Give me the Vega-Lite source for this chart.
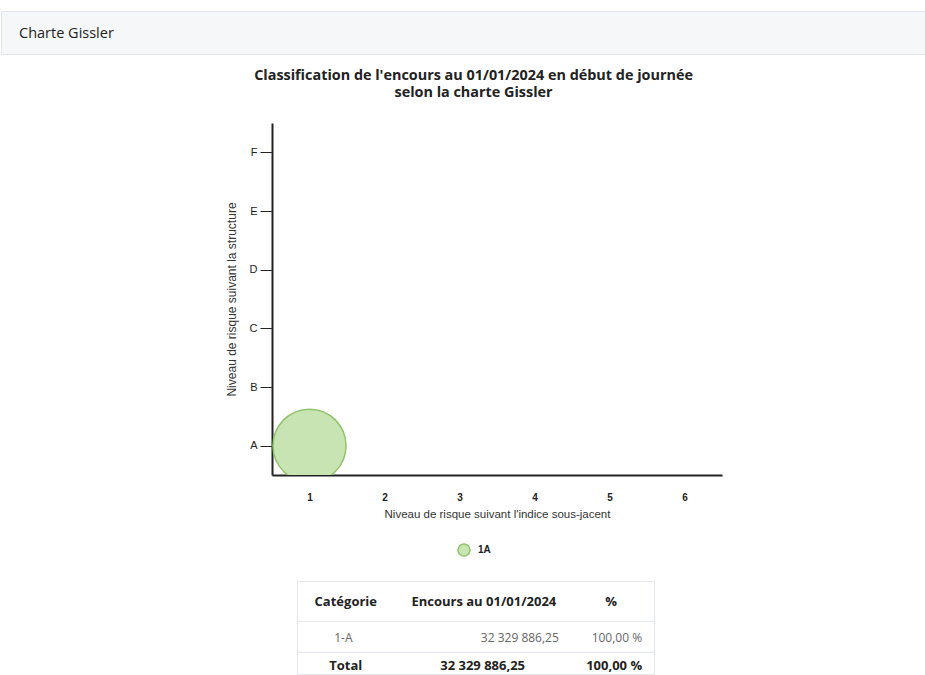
{
  "$schema": "https://vega.github.io/schema/vega-lite/v6.json",
  "padding": {"left": 0, "right": 0, "top": 10, "bottom": 0},
  "background": "white",
  "config": {"view": {"stroke": null}},
  "datasets": {
    "bulles": [
      {"indice": "1", "structure": "A", "categorie": "1A", "encours": 32329886.25}
    ],
    "tableau": [
      {"ligne": "En-tête", "colonne": "Catégorie", "texte": "Catégorie"},
      {"ligne": "En-tête", "colonne": "Encours au 01/01/2024", "texte": "Encours au 01/01/2024"},
      {"ligne": "En-tête", "colonne": "%", "texte": "%"},
      {"ligne": "1-A", "colonne": "Catégorie", "texte": "1-A"},
      {"ligne": "1-A", "colonne": "Encours au 01/01/2024", "texte": "32 329 886,25"},
      {"ligne": "1-A", "colonne": "%", "texte": "100,00 %"},
      {"ligne": "Total", "colonne": "Catégorie", "texte": "Total"},
      {"ligne": "Total", "colonne": "Encours au 01/01/2024", "texte": "32 329 886,25"},
      {"ligne": "Total", "colonne": "%", "texte": "100,00 %"}
    ]
  },
  "spacing": 12,
  "vconcat": [
    {
      "width": 924,
      "height": 43,
      "view": {"fill": "#f5f7f9", "stroke": "#e2e6ea"},
      "title": {"text": "Charte Gissler", "anchor": "start", "frame": "group", "offset": -30, "dx": 18, "font": "Open Sans", "fontSize": 14.5, "fontWeight": "normal", "color": "#222222"},
      "data": {"values": []},
      "mark": "point",
      "encoding": {}
    },
    {
      "spacing": 60,
      "vconcat": [
        {
          "spacing": 0,
          "hconcat": [
            {
              "width": 224,
              "height": 10,
              "data": {"values": []},
              "mark": "point",
              "encoding": {}
            },
            {
              "width": 450,
              "height": 352,
              "title": {
                "text": ["Classification de l'encours au 01/01/2024 en début de journée", "selon la charte Gissler"],
                "anchor": "middle",
                "frame": "bounds",
                "font": "Open Sans",
                "fontSize": 14.4,
                "fontWeight": "bold",
                "color": "#222222",
                "lineHeight": 17,
                "offset": 23
              },
              "data": {"name": "bulles"},
              "mark": {"type": "circle", "size": 5329, "opacity": 1, "strokeWidth": 1.5, "clip": true},
              "encoding": {
                "x": {
                  "field": "indice",
                  "type": "ordinal",
                  "scale": {"type": "point", "domain": ["1", "2", "3", "4", "5", "6"], "padding": 0.5},
                  "axis": {
                    "title": "Niveau de risque suivant l'indice sous-jacent",
                    "labelAngle": 0,
                    "ticks": false,
                    "tickSize": 0,
                    "grid": false,
                    "domainColor": "#222222",
                    "domainWidth": 2,
                    "labelFont": "Liberation Sans",
                    "labelFontSize": 10,
                    "labelFontWeight": "bold",
                    "labelColor": "#222222",
                    "labelPadding": 17,
                    "titleFont": "Liberation Sans",
                    "titleFontSize": 11.5,
                    "titleFontWeight": "normal",
                    "titleColor": "#333333",
                    "titlePadding": 6
                  }
                },
                "y": {
                  "field": "structure",
                  "type": "ordinal",
                  "scale": {"type": "point", "domain": ["F", "E", "D", "C", "B", "A"], "padding": 0.5},
                  "axis": {
                    "title": "Niveau de risque suivant la structure",
                    "ticks": true,
                    "tickSize": 12,
                    "tickColor": "#222222",
                    "tickWidth": 1,
                    "grid": false,
                    "domainColor": "#222222",
                    "domainWidth": 2,
                    "labelFont": "Liberation Sans",
                    "labelFontSize": 11,
                    "labelFontWeight": "normal",
                    "labelColor": "#222222",
                    "labelPadding": 3,
                    "titleFont": "Liberation Sans",
                    "titleFontSize": 12,
                    "titleFontWeight": "normal",
                    "titleColor": "#333333",
                    "titlePadding": 11
                  }
                },
                "fill": {
                  "field": "categorie",
                  "type": "nominal",
                  "scale": {"range": ["#c9e4b3"]},
                  "legend": {"title": null, "orient": "none", "legendX": 456, "legendY": 532, "direction": "horizontal", "symbolSize": 144, "symbolStrokeWidth": 1.5, "symbolOpacity": 1, "labelFont": "Liberation Sans", "labelFontSize": 10, "labelFontWeight": "bold", "labelColor": "#222222", "labelOffset": 7}
                },
                "stroke": {
                  "field": "categorie",
                  "type": "nominal",
                  "scale": {"range": ["#8fc46a"]},
                  "legend": {"title": null, "orient": "none", "legendX": 456, "legendY": 532, "direction": "horizontal", "symbolSize": 144, "symbolStrokeWidth": 1.5, "symbolOpacity": 1, "labelFont": "Liberation Sans", "labelFontSize": 10, "labelFontWeight": "bold", "labelColor": "#222222", "labelOffset": 7}
                }
              }
            }
          ]
        },
        {
          "spacing": 0,
          "hconcat": [
            {
              "width": 295,
              "height": 10,
              "data": {"values": []},
              "mark": "point",
              "encoding": {}
            },
            {
              "width": 357,
              "height": 93,
              "view": {"stroke": "#e3e7eb", "strokeWidth": 1},
              "data": {"name": "tableau"},
              "encoding": {
                "x": {"field": "colonne", "type": "nominal", "scale": {"type": "band", "domain": ["Catégorie", "Encours au 01/01/2024", "%"], "paddingInner": 0, "paddingOuter": 0}, "axis": null},
                "y": {"field": "ligne", "type": "nominal", "scale": {"type": "band", "domain": ["En-tête", "1-A", "Total"], "paddingInner": 0, "paddingOuter": 0}, "axis": null}
              },
              "layer": [
                {
                  "transform": [{"filter": "datum.ligne != 'En-tête' && datum.colonne == 'Catégorie'"}],
                  "mark": {"type": "rule", "color": "#e3e7eb", "strokeWidth": 1},
                  "encoding": {
                    "x": null,
                    "y": {"field": "ligne", "type": "nominal", "bandPosition": 0.3}
                  }
                },
                {
                  "transform": [{"filter": "datum.ligne == 'En-tête' && datum.colonne == 'Catégorie'"}],
                  "mark": {"type": "text", "font": "Open Sans", "fontSize": 13, "fontWeight": "bold", "color": "#222222", "align": "center", "baseline": "middle"},
                  "encoding": {
                    "x": {"field": "colonne", "type": "nominal", "bandPosition": 0.41},
                    "y": {"field": "ligne", "type": "nominal", "bandPosition": 0.68},
                    "text": {"field": "texte"}
                  }
                },
                {
                  "transform": [{"filter": "datum.ligne == 'En-tête' && datum.colonne == 'Encours au 01/01/2024'"}],
                  "mark": {"type": "text", "font": "Open Sans", "fontSize": 13, "fontWeight": "bold", "color": "#222222", "align": "center", "baseline": "middle"},
                  "encoding": {
                    "x": {"field": "colonne", "type": "nominal", "bandPosition": 0.57},
                    "y": {"field": "ligne", "type": "nominal", "bandPosition": 0.68},
                    "text": {"field": "texte"}
                  }
                },
                {
                  "transform": [{"filter": "datum.ligne == 'En-tête' && datum.colonne == '%'"}],
                  "mark": {"type": "text", "font": "Open Sans", "fontSize": 13, "fontWeight": "bold", "color": "#222222", "align": "center", "baseline": "middle"},
                  "encoding": {
                    "x": {"field": "colonne", "type": "nominal", "bandPosition": 0.64},
                    "y": {"field": "ligne", "type": "nominal", "bandPosition": 0.68},
                    "text": {"field": "texte"}
                  }
                },
                {
                  "transform": [{"filter": "datum.ligne == '1-A' && datum.colonne == 'Catégorie'"}],
                  "mark": {"type": "text", "font": "Open Sans", "fontSize": 12, "fontWeight": "normal", "color": "#666666", "align": "center", "baseline": "middle"},
                  "encoding": {
                    "x": {"field": "colonne", "type": "nominal", "bandPosition": 0.39},
                    "y": {"field": "ligne", "type": "nominal", "bandPosition": 0.85},
                    "text": {"field": "texte"}
                  }
                },
                {
                  "transform": [{"filter": "datum.ligne == '1-A' && datum.colonne == 'Encours au 01/01/2024'"}],
                  "mark": {"type": "text", "font": "Open Sans", "fontSize": 12, "fontWeight": "normal", "color": "#666666", "align": "right", "baseline": "middle"},
                  "encoding": {
                    "x": {"field": "colonne", "type": "nominal", "bandPosition": 1.2},
                    "y": {"field": "ligne", "type": "nominal", "bandPosition": 0.85},
                    "text": {"field": "texte"}
                  }
                },
                {
                  "transform": [{"filter": "datum.ligne == '1-A' && datum.colonne == '%'"}],
                  "mark": {"type": "text", "font": "Open Sans", "fontSize": 12, "fontWeight": "normal", "color": "#666666", "align": "right", "baseline": "middle"},
                  "encoding": {
                    "x": {"field": "colonne", "type": "nominal", "bandPosition": 0.9},
                    "y": {"field": "ligne", "type": "nominal", "bandPosition": 0.85},
                    "text": {"field": "texte"}
                  }
                },
                {
                  "transform": [{"filter": "datum.ligne == 'Total' && datum.colonne == 'Catégorie'"}],
                  "mark": {"type": "text", "font": "Open Sans", "fontSize": 13, "fontWeight": "bold", "color": "#222222", "align": "center", "baseline": "middle"},
                  "encoding": {
                    "x": {"field": "colonne", "type": "nominal", "bandPosition": 0.41},
                    "y": {"field": "ligne", "type": "nominal", "bandPosition": 0.74},
                    "text": {"field": "texte"}
                  }
                },
                {
                  "transform": [{"filter": "datum.ligne == 'Total' && datum.colonne == 'Encours au 01/01/2024'"}],
                  "mark": {"type": "text", "font": "Open Sans", "fontSize": 13, "fontWeight": "bold", "color": "#222222", "align": "center", "baseline": "middle"},
                  "encoding": {
                    "x": {"field": "colonne", "type": "nominal", "bandPosition": 0.56},
                    "y": {"field": "ligne", "type": "nominal", "bandPosition": 0.74},
                    "text": {"field": "texte"}
                  }
                },
                {
                  "transform": [{"filter": "datum.ligne == 'Total' && datum.colonne == '%'"}],
                  "mark": {"type": "text", "font": "Open Sans", "fontSize": 13, "fontWeight": "bold", "color": "#222222", "align": "right", "baseline": "middle"},
                  "encoding": {
                    "x": {"field": "colonne", "type": "nominal", "bandPosition": 0.9},
                    "y": {"field": "ligne", "type": "nominal", "bandPosition": 0.74},
                    "text": {"field": "texte"}
                  }
                }
              ]
            }
          ]
        }
      ]
    }
  ]
}
